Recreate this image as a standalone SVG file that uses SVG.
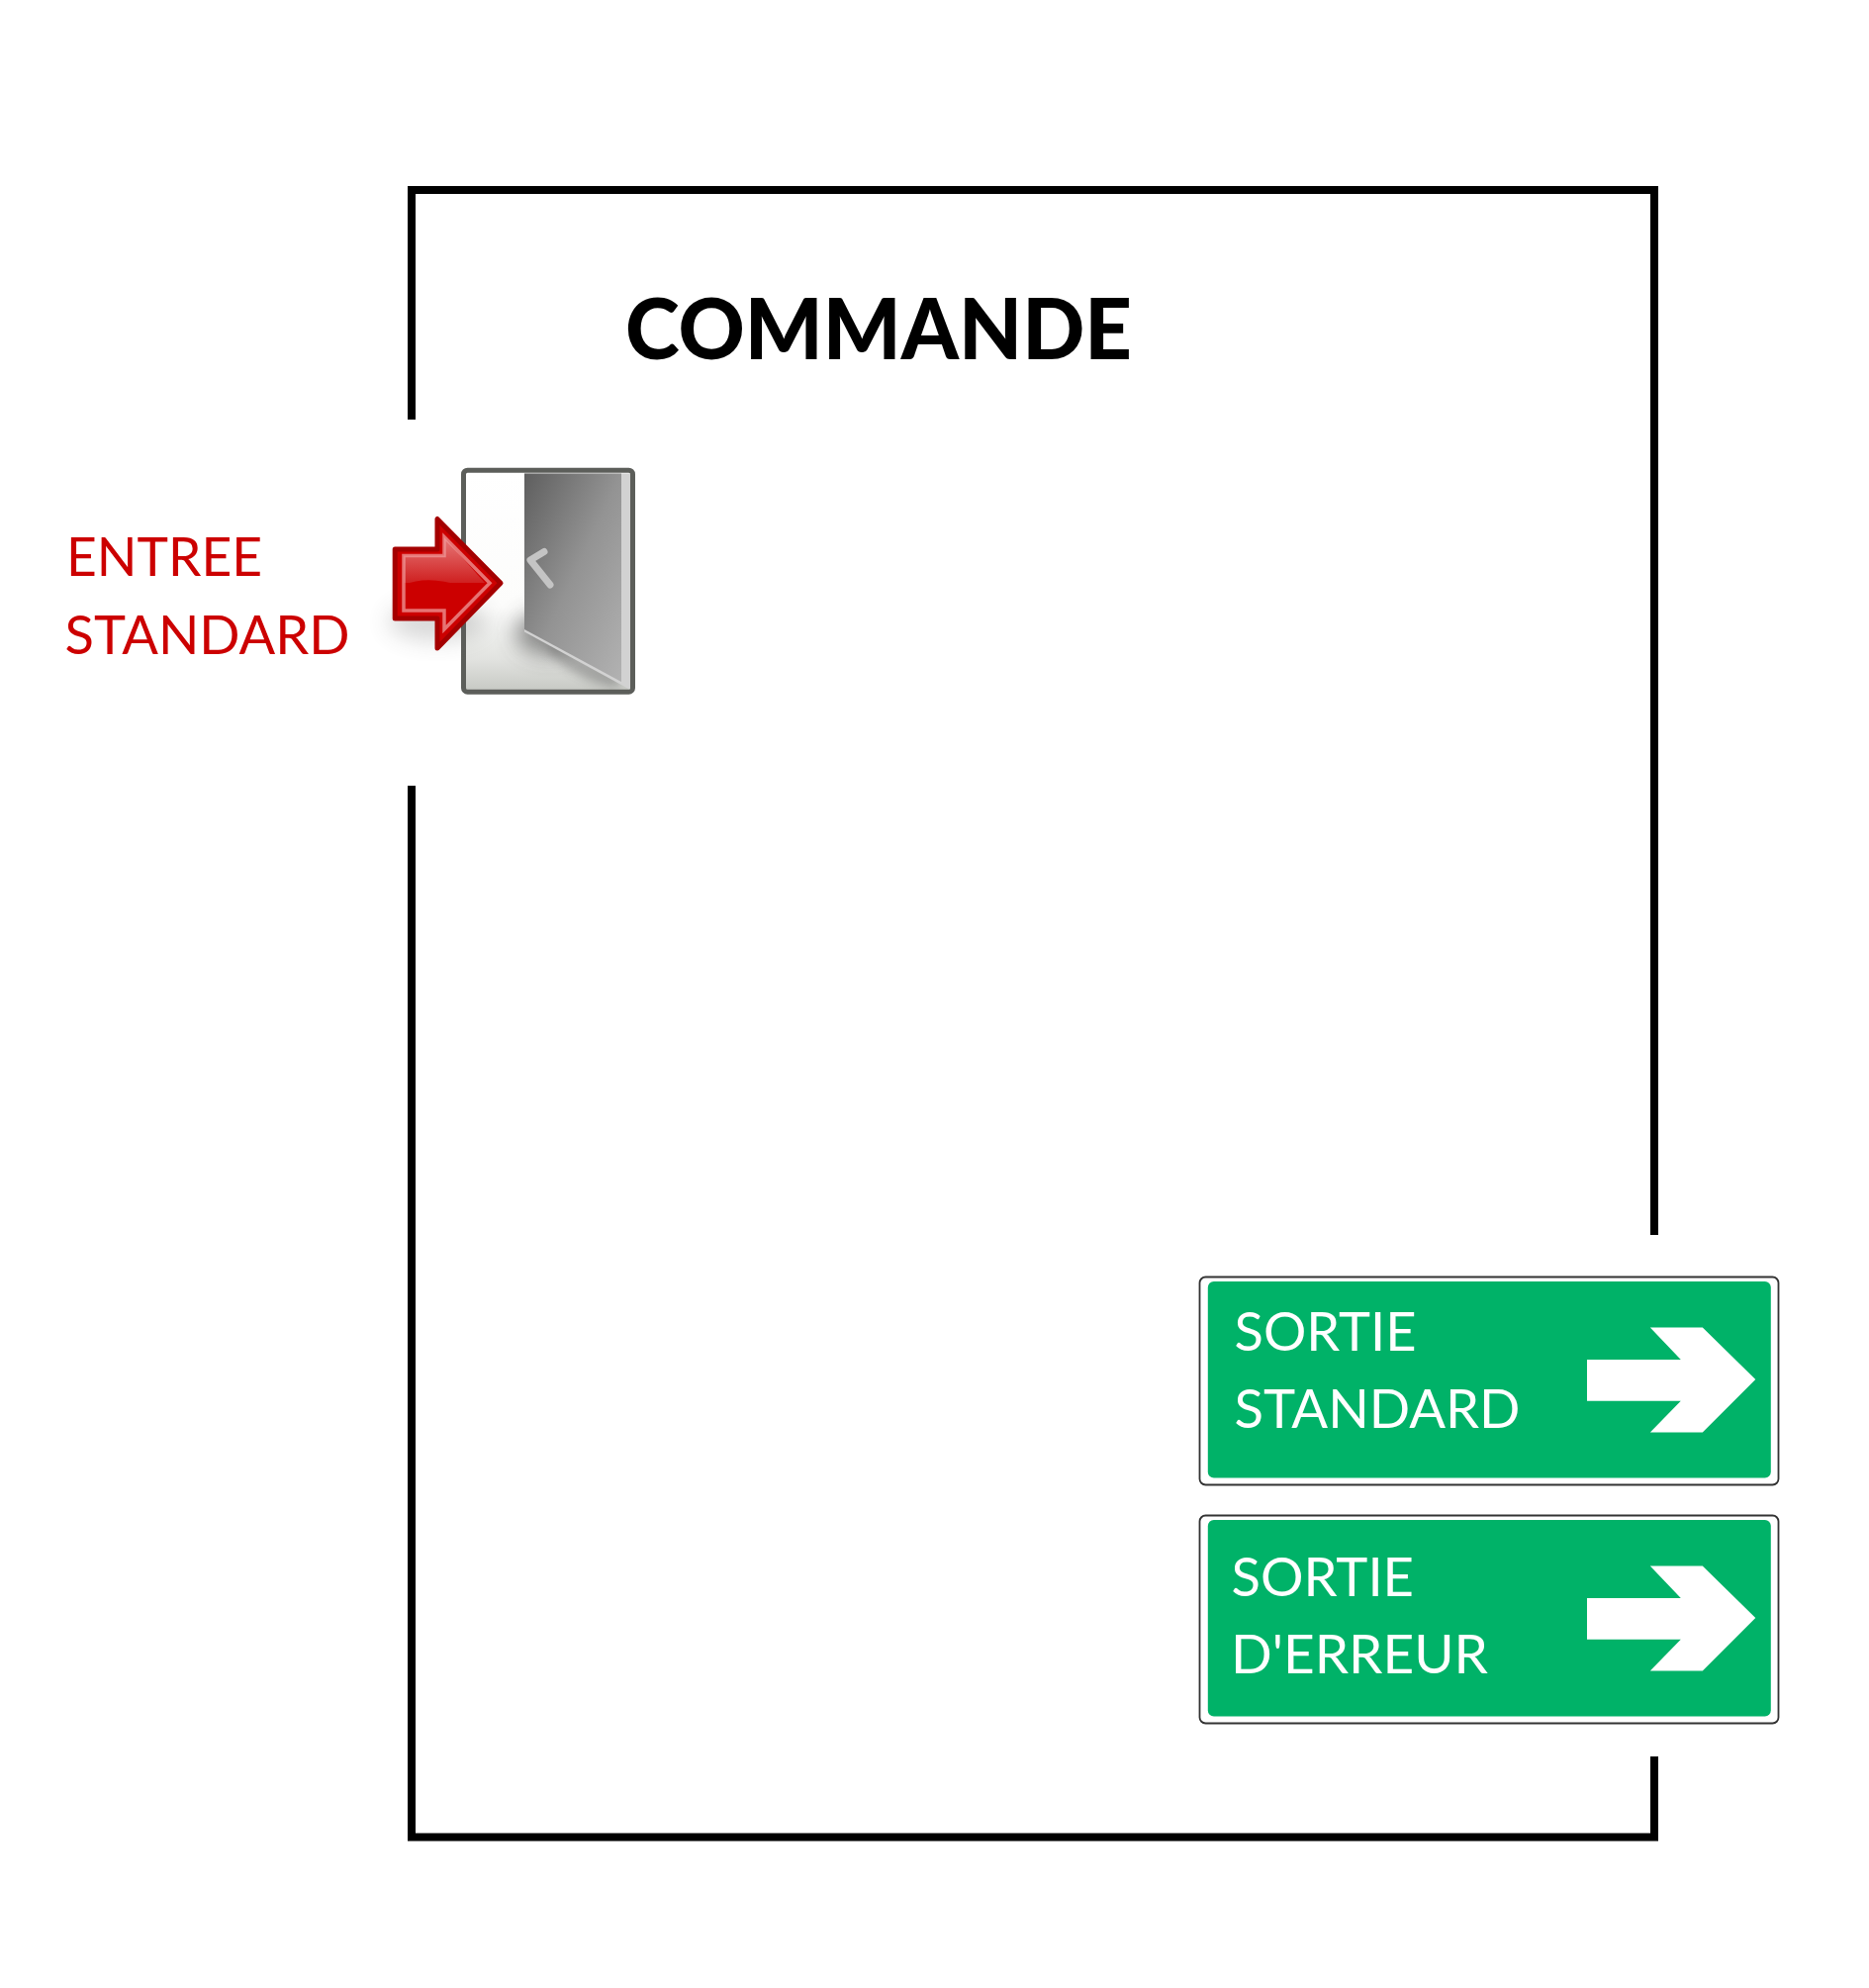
<svg xmlns="http://www.w3.org/2000/svg" width="1889" height="2009" viewBox="0 0 1889 2009">
<style>
.frame{fill:none;stroke:#000;stroke-width:8;stroke-linejoin:miter}
.t{font-family:Lato,"Open Sans","Liberation Sans",sans-serif;font-size:55px}
.w{fill:#fff}
.r{fill:#cc0000}
.outer{fill:#fff;stroke:#333;stroke-width:1.8}
.green{fill:#00b268}
</style>
<defs>
<linearGradient id="doorway" x1="0" y1="0" x2="0" y2="1"><stop offset="0" stop-color="#fff"/><stop offset=".62" stop-color="#fcfcfb"/><stop offset=".85" stop-color="#e2e3e0"/><stop offset="1" stop-color="#c6c8c3"/></linearGradient>
<linearGradient id="panel" x1="0" y1="0" x2="1" y2="1"><stop offset="0" stop-color="#5e5e5e"/><stop offset=".5" stop-color="#939393"/><stop offset="1" stop-color="#b2b2b2"/></linearGradient>
<linearGradient id="gloss" x1="0" y1="0" x2="0" y2="1"><stop offset="0" stop-color="#e77a7a"/><stop offset="1" stop-color="#cf2020"/></linearGradient>
<filter id="blur" x="-50%" y="-50%" width="200%" height="200%"><feGaussianBlur stdDeviation="11"/></filter>
<filter id="blur2" x="-50%" y="-50%" width="200%" height="200%"><feGaussianBlur stdDeviation="5"/></filter>
<clipPath id="doorclip"><rect x="470" y="477" width="167" height="220" rx="2"/></clipPath>
</defs>
<rect width="1889" height="2009" fill="#fff"/>
<g id="connectors">
<path class="frame" d="M416 424V192H1672V1248"/>
<path class="frame" d="M416 794V1856.500H1672V1775"/>
</g>
<g id="commande"><text x="632" y="363" font-family="Lato,'Open Sans','Liberation Sans',sans-serif" font-size="85" font-weight="900" fill="#000" textLength="512" lengthAdjust="spacingAndGlyphs">COMMANDE</text></g>
<g id="entree-label">
<text class="t r" x="67" y="582" textLength="198" lengthAdjust="spacingAndGlyphs">ENTREE</text>
<text class="t r" x="65.500" y="660.500" textLength="288" lengthAdjust="spacingAndGlyphs">STANDARD</text>
</g>
<g id="door">
<rect x="468.500" y="475.200" width="171" height="224" rx="4" fill="url(#doorway)" stroke="#5c5e5a" stroke-width="5"/>
<g clip-path="url(#doorclip)">
<ellipse cx="555" cy="640" rx="34" ry="22" fill="#444" opacity=".6" filter="url(#blur)"/>
<ellipse cx="590" cy="672" rx="42" ry="11" fill="#666" opacity=".45" filter="url(#blur2)" transform="rotate(28 590 672)"/>
<polygon points="530,478.500 637,478.500 637,697 530,638.500" fill="#d2d2d2"/>
<polygon points="530,478.500 628,478.500 628,689 530,636" fill="url(#panel)"/>
<polyline points="550,557.500 536,566 556,591" fill="none" stroke="#c4c4c4" stroke-width="7" stroke-linecap="round" stroke-linejoin="round"/>
</g>
</g>
<g id="entree-arrow">
<ellipse cx="442" cy="628" rx="50" ry="20" fill="#555" opacity=".22" filter="url(#blur)"/>
<polygon points="506,589.300 442,524.500 442,555 399.200,555 399.200,625 442,625 442,655" fill="#cc0000" stroke="#a40000" stroke-width="5" stroke-linejoin="round"/>
<path d="M408 561.500H449V543L490 589H408Z" fill="url(#gloss)"/>
<path d="M408 591C425 584 445 585 465 592C478 596 486 596 491 593L449 636V617H408Z" fill="#cc0000"/>
<polygon points="495,589.300 449,542.500 449,561.500 408,561.500 408,617 449,617 449,636" fill="none" stroke="#ef9a9a" stroke-opacity=".75" stroke-width="3.500"/>
</g>
<g id="sortie-standard">
<rect class="outer" x="1216" y="1294" width="585" height="210" rx="6" transform="translate(-3.500 -3.500)"/>
<rect class="green" x="1220.800" y="1295" width="569" height="198.600" rx="6"/>
<text class="t w" x="1247.500" y="1364.500" textLength="184" lengthAdjust="spacingAndGlyphs">SORTIE</text>
<text class="t w" x="1247.500" y="1442.500" textLength="289" lengthAdjust="spacingAndGlyphs">STANDARD</text>
<polygon class="w" points="1604,1374 1698.800,1374 1667.800,1341.400 1720.800,1341.400 1774.300,1394 1720.800,1447.500 1667.800,1447.500 1698.800,1415.700 1604,1415.700"/>
</g>
<g id="sortie-erreur">
<rect class="outer" x="1212.500" y="1531.500" width="585" height="210" rx="6"/>
<rect class="green" x="1220.800" y="1536" width="569" height="198.600" rx="6"/>
<text class="t w" x="1244.500" y="1612.500" textLength="184.500" lengthAdjust="spacingAndGlyphs">SORTIE</text>
<text class="t w" x="1244" y="1690.500" textLength="260" lengthAdjust="spacingAndGlyphs">D'ERREUR</text>
<polygon class="w" points="1604,1615 1698.800,1615 1667.800,1582.400 1720.800,1582.400 1774.300,1635 1720.800,1688.500 1667.800,1688.500 1698.800,1656.700 1604,1656.700"/>
</g>
</svg>
